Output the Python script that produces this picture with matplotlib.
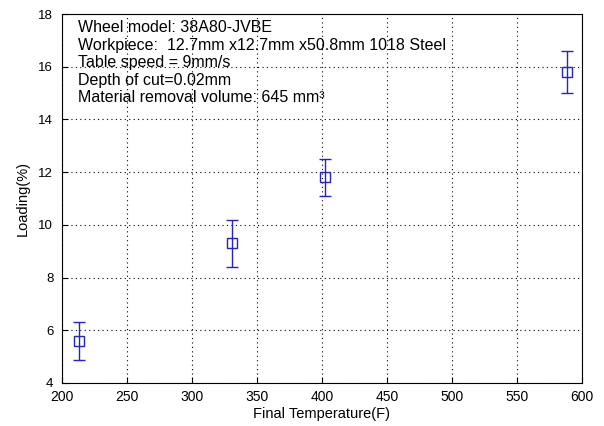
import matplotlib
matplotlib.use('Agg')
import matplotlib.pyplot as plt

plt.rcParams['font.family'] = ['Liberation Sans', 'DejaVu Sans']

# final temperature (F) vs loading (%)
temp = [213.5, 330.8, 402.0, 588.0]
loading = [5.6, 9.3, 11.8, 15.8]
err = [0.72, 0.9, 0.7, 0.8]

notes = ['Wheel model: 38A80-JVBE',
         'Workpiece:  12.7mm x12.7mm x50.8mm 1018 Steel',
         'Table speed = 9mm/s',
         'Depth of cut=0.02mm',
         'Material removal volume: 645 mm\u00b3']

fig = plt.figure(figsize=(6.04, 4.26), dpi=100)
ax = fig.add_axes([0.102, 0.101, 0.862, 0.866])

ax.errorbar(temp, loading, yerr=err, fmt='s', color='#2424c0', mfc='none',
            ms=7, mew=1.0, elinewidth=1.0, capsize=4.5, capthick=1.0)

ax.set_xlim(200, 600)
ax.set_ylim(4, 18)
ax.set_xticks(range(200, 601, 50))
ax.set_yticks(range(4, 19, 2))
ax.grid(True, linestyle=(0, (1, 3)), color='black', linewidth=0.8)
ax.tick_params(direction='in', length=4)
ax.tick_params(axis='x', labelsize=10, pad=5)
ax.tick_params(axis='y', labelsize=9.5, pad=6)
ax.set_xlabel('Final Temperature(F)', fontsize=10.5, labelpad=2)
ax.set_ylabel('Loading(%)', fontsize=10.5, labelpad=6)

y = 0.983
for line in notes:
    ax.text(0.031, y, line, transform=ax.transAxes, fontsize=11.5, va='top')
    y -= 0.0474

fig.savefig('out.png', dpi=100)
